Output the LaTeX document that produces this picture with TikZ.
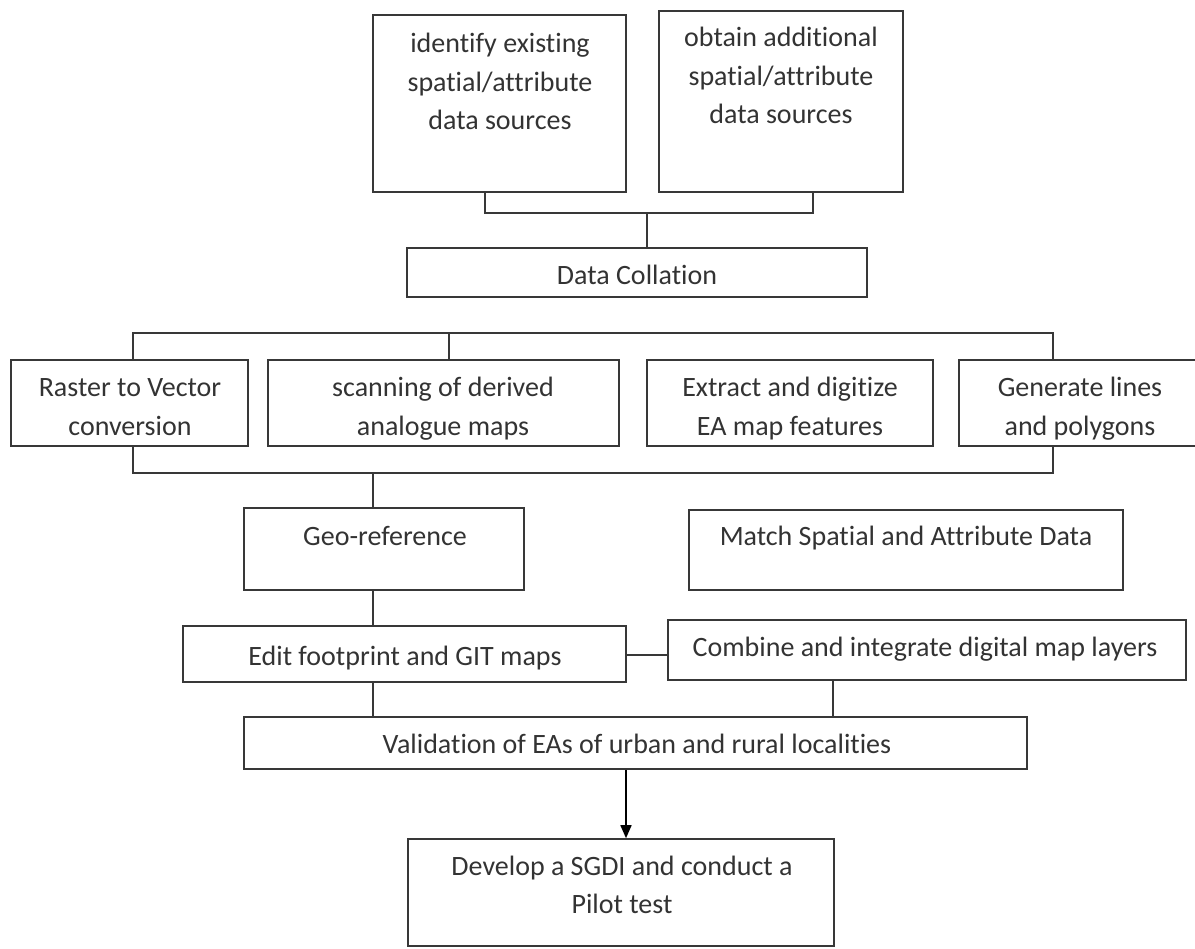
\documentclass[tikz,border=0pt]{standalone}
\usepackage{fontspec}
\setmainfont{Carlito}[Ligatures=NoCommon]
\usetikzlibrary{fit,arrows.meta}
\tikzset{
  box/.style={draw=black!78, line width=1.6pt, inner sep=0pt, rectangle},
  txt/.style={anchor=base, inner sep=0pt, text=black!80, font=\fontsize{28}{38.5}\selectfont},
  conn/.style={draw=black!78, line width=1.6pt},
  arr/.style={draw=black, line width=1.6pt, -{Triangle[length=13pt,width=11pt]}}
}
\newcommand{\lines}[2]{\parbox[t]{#1pt}{\centering #2}}
\begin{document}
\begin{tikzpicture}[x=1pt,y=-1pt]
\useasboundingbox (0,0) rectangle (1195,949);
% boxes
\node[box, fit={(373,15) (626,192)}] (ident) {};
\node[box, fit={(659,11) (903,192)}] (obtain) {};
\node[box, fit={(407,248) (867,297)}] (collate) {};
\node[box, fit={(11,360) (248,446)}] (raster) {};
\node[box, fit={(268,360) (619,446)}] (scan) {};
\node[box, fit={(647,360) (933,446)}] (extract) {};
\node[box, fit={(959,360) (1202,446)}] (gen) {};
\node[box, fit={(244,508) (524,590)}] (geo) {};
\node[box, fit={(689,510) (1123,590)}] (match) {};
\node[box, fit={(183,626) (626,682)}] (edit) {};
\node[box, fit={(668,620) (1186,680)}] (combine) {};
\node[box, fit={(244,717) (1027,769)}] (valid) {};
\node[box, fit={(408,839) (834,946)}] (develop) {};
% texts
\node[txt] (tident) at (500,53) {\lines{320}{identify existing\\spatial/attribute\\data sources}};
\node[txt] (tobtain) at (781,47) {\lines{320}{obtain additional\\spatial/attribute\\data sources}};
\node[txt] (tcollate) at (637,285) {Data Collation};
\node[txt] (traster) at (130,397) {\lines{300}{Raster to Vector\\conversion}};
\node[txt] (tscan) at (443,397) {\lines{340}{scanning of derived\\analogue maps}};
\node[txt] (textract) at (790,397) {\lines{320}{Extract and digitize\\EA map features}};
\node[txt] (tgen) at (1080,397) {\lines{300}{Generate lines\\and polygons}};
\node[txt] (tgeo) at (385,545) {Geo-reference};
\node[txt] (tmatch) at (906,546) {Match Spatial and Attribute Data};
\node[txt] (tedit) at (405,665) {Edit footprint and GIT maps};
\node[txt] (tcombine) at (925,656) {Combine and integrate digital map layers};
\node[txt] (tvalid) at (637,753) {Validation of EAs of urban and rural localities};
\node[txt] (tdevelop) at (622,875) {\lines{420}{Develop a SGDI and conduct a\\Pilot test}};
% junction coordinates
\coordinate (ja) at (485,213);
\coordinate (jb) at (813,213);
\coordinate (jc) at (647,213);
\coordinate (ta) at (133,333);
\coordinate (tb) at (449,333);
\coordinate (tc) at (1053,333);
\coordinate (la) at (133,473);
\coordinate (lb) at (373,473);
\coordinate (lc) at (1053,473);
\coordinate (me) at (0,655);
\coordinate (cv) at (833,0);
\coordinate (av) at (626,0);
% connectors
\draw[conn] (ident.south -| ja) -- (ja) -- (jb) -- (obtain.south -| jb);
\draw[conn] (jc) -- (collate.north -| jc);
\draw[conn] (raster.north -| ta) -- (ta) -- (tc) -- (gen.north -| tc);
\draw[conn] (tb) -- (scan.north -| tb);
\draw[conn] (raster.south -| la) -- (la) -- (lc) -- (gen.south -| lc);
\draw[conn] (lb) -- (geo.north -| lb);
\draw[conn] (geo.south -| lb) -- (edit.north -| lb);
\draw[conn] (edit.east |- me) -- (combine.west |- me);
\draw[conn] (edit.south -| lb) -- (valid.north -| lb);
\draw[conn] (combine.south -| cv) -- (valid.north -| cv);
\draw[arr] (valid.south -| av) -- (develop.north -| av);
\end{tikzpicture}
\end{document}
